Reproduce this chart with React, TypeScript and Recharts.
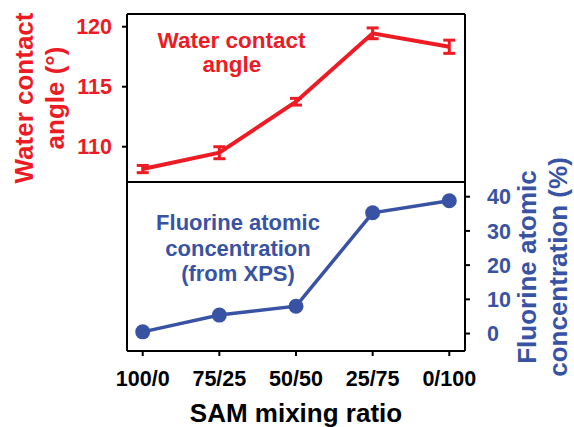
import { ComposedChart, Line, XAxis, YAxis, ErrorBar, ReferenceLine } from 'recharts'

const RED = '#ED1C24'
const BLUE = '#3953A4'
const FONT = '"Liberation Sans", Arial, Helvetica, sans-serif'

// SAM mixing ratios along the x axis
const ratios = ['100/0', '75/25', '50/50', '25/75', '0/100']
// water contact angle (deg) and its error
const contactAngle = [108.14, 109.5, 113.75, 119.45, 118.33]
const contactAngleErr = [0.3, 0.5, 0.28, 0.45, 0.55]
// fluorine atomic concentration from XPS (%)
const fluorine = [0.5, 5.4, 8.0, 35.3, 38.8]

const angleTicks = [110, 115, 120]
const fluorineTicks = [0, 10, 20, 30, 40]

// the two panels share one plot area: each y domain is stretched so
// its series sits in its own half
const angleDomain: [number, number] = [92.975, 121.06]
const panelSplit = 107.06
const fluorineDomain: [number, number] = [-5.1, 93.4]

const data = ratios.map((ratio, i) => ({
  pos: i,
  ratio,
  angle: contactAngle[i],
  angleErr: contactAngleErr[i],
  fluorine: fluorine[i],
}))

const axisStroke = { stroke: '#000', strokeWidth: 2 }
const tickFont = { fontSize: 21.5, fontWeight: 'bold', fontFamily: FONT }

export default function App() {
  return (
    <div style={{ position: 'absolute', left: 0, top: 0, width: 574, height: 427, background: '#fff' }}>
      <ComposedChart width={574} height={427} data={data} margin={{ top: 14, right: 0, bottom: 0, left: 0 }}>
        <XAxis
          dataKey="pos"
          type="number"
          domain={[-0.205, 4.205]}
          ticks={[0, 1, 2, 3, 4]}
          interval={0}
          tickFormatter={(v: number) => ratios[v]}
          height={76}
          tickSize={5}
          tickMargin={15}
          axisLine={axisStroke}
          tickLine={axisStroke}
          tick={{ ...tickFont, fill: '#000' }}
          label={{
            value: 'SAM mixing ratio',
            position: 'insideBottom',
            offset: 5,
            fill: '#000',
            fontSize: 26,
            fontWeight: 'bold',
            fontFamily: FONT,
          }}
        />
        <YAxis
          yAxisId="w"
          orientation="left"
          width={127}
          domain={angleDomain}
          ticks={angleTicks}
          interval={0}
          tickSize={5}
          tickMargin={10}
          axisLine={axisStroke}
          tickLine={axisStroke}
          tick={{ ...tickFont, fill: RED }}
        />
        <YAxis
          yAxisId="f"
          orientation="right"
          width={109}
          domain={fluorineDomain}
          ticks={fluorineTicks}
          interval={0}
          tickSize={5}
          tickMargin={17}
          axisLine={axisStroke}
          tickLine={axisStroke}
          tick={{ ...tickFont, fill: BLUE }}
        />
        <ReferenceLine yAxisId="w" y={angleDomain[1]} stroke="#000" strokeWidth={2} />
        <ReferenceLine yAxisId="w" y={panelSplit} stroke="#000" strokeWidth={2} />
        <Line
          yAxisId="w"
          dataKey="angle"
          stroke={RED}
          strokeWidth={4}
          dot={false}
          activeDot={false}
          isAnimationActive={false}
        >
          <ErrorBar dataKey="angleErr" direction="y" width={6} strokeWidth={3} stroke={RED} isAnimationActive={false} />
        </Line>
        <Line
          yAxisId="f"
          dataKey="fluorine"
          stroke={BLUE}
          strokeWidth={3.5}
          dot={{ r: 7.5, fill: BLUE, stroke: BLUE, strokeWidth: 0 }}
          activeDot={false}
          isAnimationActive={false}
        />
      </ComposedChart>
      <svg
        width={574}
        height={427}
        style={{ position: 'absolute', left: 0, top: 0, pointerEvents: 'none' }}
        fontFamily={FONT}
        fontWeight="bold"
      >
        <g transform="translate(33,98) rotate(-90)" fill={RED} fontSize={26} textAnchor="middle">
          <text x={0} y={0}>Water contact</text>
          <text x={0} y={31}>angle (°)</text>
        </g>
        <g transform="translate(536,267) rotate(-90)" fill={BLUE} fontSize={26} textAnchor="middle">
          <text x={0} y={0}>Fluorine atomic</text>
          <text x={0} y={31}>concentration (%)</text>
        </g>
        <g fill={RED} fontSize={22.5} textAnchor="middle">
          <text x={231.5} y={48}>Water contact</text>
          <text x={232} y={71.5}>angle</text>
        </g>
        <g fill={BLUE} fontSize={22} textAnchor="middle">
          <text x={238} y={230}>Fluorine atomic</text>
          <text x={238} y={256}>concentration</text>
          <text x={238} y={281}>(from XPS)</text>
        </g>
      </svg>
    </div>
  )
}
